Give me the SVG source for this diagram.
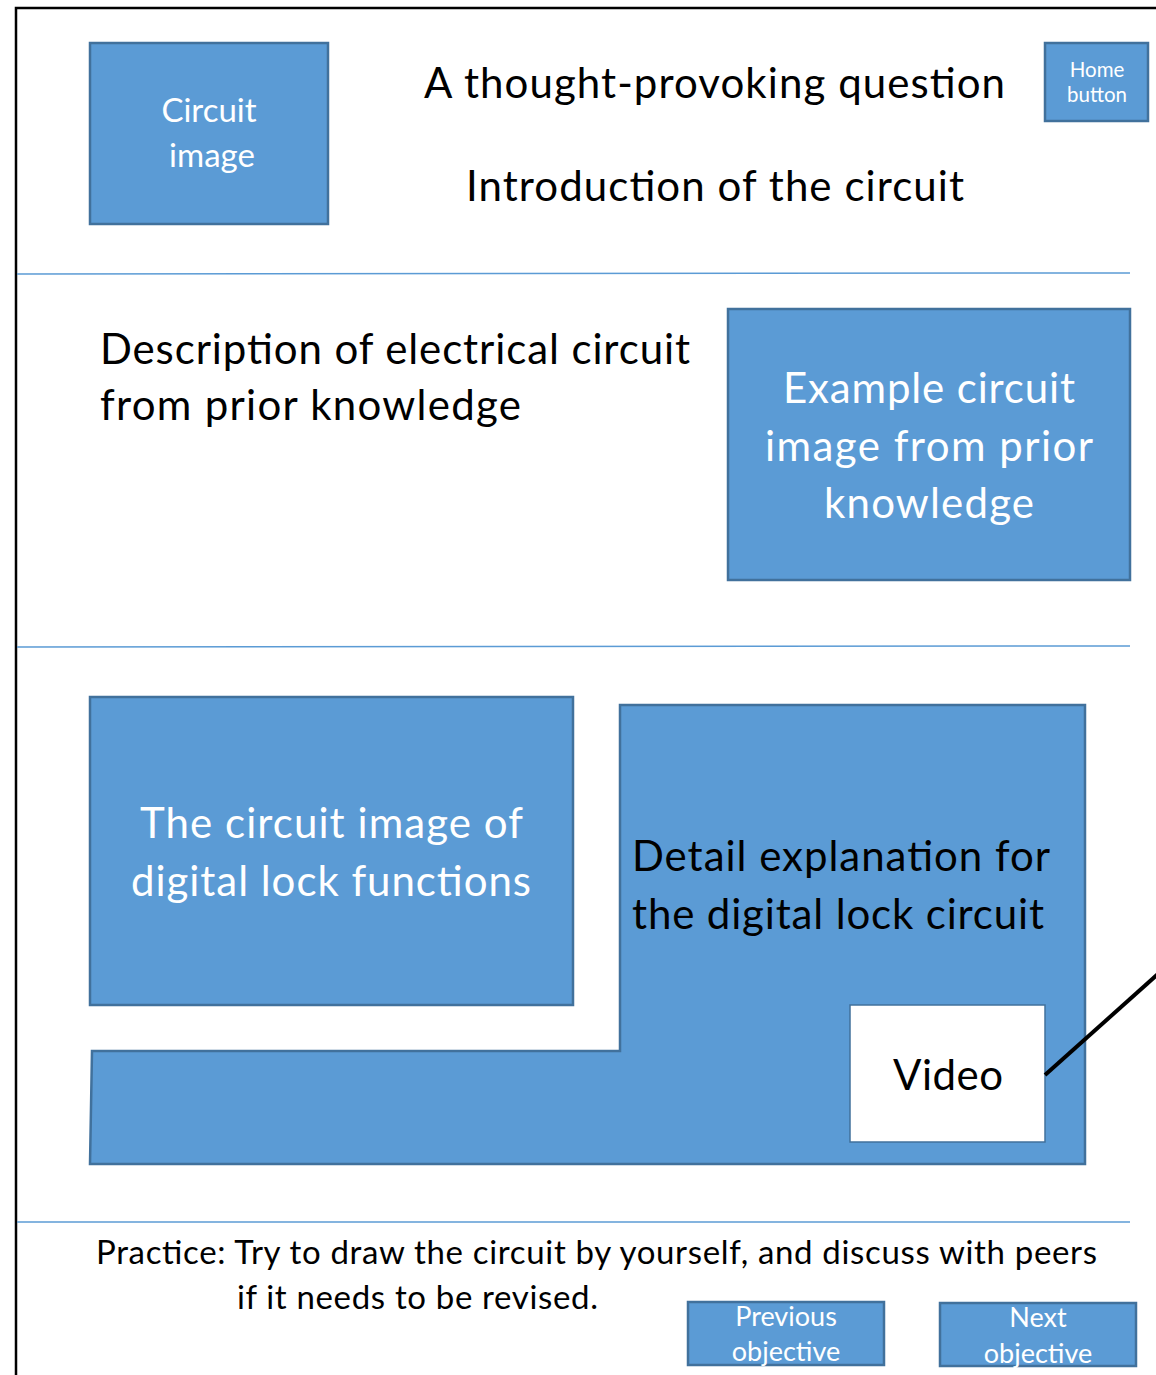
<svg xmlns="http://www.w3.org/2000/svg" width="1156" height="1375" viewBox="0 0 1156 1375">
<style>
.box{fill:#5B9BD5;stroke:#41719C;stroke-width:2.5}
.sep{stroke:#5B9BD5;stroke-width:1.5}
text{font-family:"Lato","Liberation Sans",sans-serif}
.w{fill:#ffffff}
.k{fill:#000000}
.big{font-size:42px}
.mid{font-size:33px}
.c{text-anchor:middle}
</style>
<rect width="1156" height="1375" fill="#ffffff"/>
<g id="frame">
<path d="M16,1375 V8 H1156" fill="none" stroke="#000" stroke-width="2.5"/>
<line class="sep" x1="17" y1="274" x2="1130" y2="273"/>
<line class="sep" x1="17" y1="647" x2="1130" y2="646"/>
<line class="sep" x1="17" y1="1222" x2="1130" y2="1222"/>
</g>
<g id="circuit-image">
<rect class="box" x="90" y="43" width="238" height="181"/>
<text class="w mid c" x="209" y="122">Circuit</text>
<text class="w mid c" x="212" y="167">image</text>
</g>
<g id="title">
<text class="k big" x="424" y="98" textLength="581">A thought-provoking question</text>
<text class="k big" x="466" y="201" textLength="498">Introduction of the circuit</text>
</g>
<g id="home-button">
<rect class="box" x="1045" y="43" width="103" height="78"/>
<text class="w c" x="1097" y="77" font-size="20.5">Home</text>
<text class="w c" x="1097" y="102" font-size="20.5">button</text>
</g>
<g id="description">
<text class="k big" x="100" y="364" textLength="590">Description of electrical circuit</text>
<text class="k big" x="100" y="420" textLength="421">from prior knowledge</text>
</g>
<g id="example-circuit">
<rect class="box" x="728" y="309" width="402" height="271"/>
<text class="w big" x="783" y="403" textLength="292">Example circuit</text>
<text class="w big" x="765" y="461" textLength="328">image from prior</text>
<text class="w big" x="824" y="518" textLength="210">knowledge</text>
</g>
<g id="digital-lock-image">
<rect class="box" x="90" y="697" width="483" height="308"/>
<text class="w big" x="140" y="838" textLength="383">The circuit image of</text>
<text class="w big" x="131" y="896" textLength="400">digital lock functions</text>
</g>
<g id="detail-explanation">
<path class="box" d="M620,705 H1085 V1164 H90 L92,1051 H620 Z"/>
<text class="k big" x="632" y="871" textLength="418">Detail explanation for</text>
<text class="k big" x="632" y="929" textLength="412">the digital lock circuit</text>
</g>
<g id="video">
<rect x="850" y="1005" width="195" height="137" fill="#ffffff" stroke="#41719C" stroke-width="1.5"/>
<text class="k big" x="893" y="1090" textLength="110">Video</text>
</g>
<g id="connectors">
<line x1="1045" y1="1075" x2="1158" y2="974" stroke="#000" stroke-width="4"/>
</g>
<g id="practice">
<text class="k mid" x="96" y="1264" textLength="1001">Practice: Try to draw the circuit by yourself, and discuss with peers</text>
<text class="k mid" x="237" y="1309" textLength="361">if it needs to be revised.</text>
</g>
<g id="previous-objective">
<rect class="box" x="688" y="1302" width="196" height="63"/>
<text class="w c" x="786" y="1326" font-size="27">Previous</text>
<text class="w c" x="786" y="1361" font-size="27">objective</text>
</g>
<g id="next-objective">
<rect class="box" x="940" y="1303" width="196" height="63"/>
<text class="w c" x="1038" y="1327" font-size="27">Next</text>
<text class="w c" x="1038" y="1363" font-size="27">objective</text>
</g>
</svg>
